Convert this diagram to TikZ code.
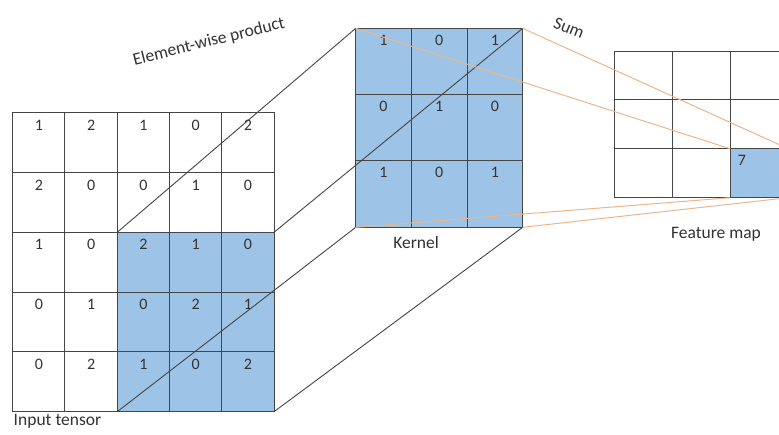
\documentclass[tikz,border=0pt]{standalone}
\usepackage{fontspec}
\setmainfont{Carlito}
\definecolor{cellblue}{HTML}{9DC3E6}
\definecolor{gridgray}{HTML}{454545}
\definecolor{sumorange}{HTML}{EDB68A}
\definecolor{txtgray}{HTML}{333333}
\begin{document}
\begin{tikzpicture}[x=1pt,y=-1pt,
  cell/.style={draw=gridgray, line width=1pt, inner sep=0pt, outer sep=0pt, anchor=north west},
  incell/.style={cell, minimum width=52.26pt, minimum height=59.8pt},
  kcell/.style={cell, fill=cellblue, minimum width=55.67pt, minimum height=66.33pt},
  fcell/.style={cell, minimum width=58.1pt, minimum height=48.9pt},
  digit/.style={text=txtgray, font=\fontsize{16}{18}\selectfont, inner sep=0pt},
  lbl/.style={text=txtgray, font=\fontsize{17.5}{20}\selectfont, inner sep=0pt},
  proj/.style={draw=gridgray, line width=0.9pt},
  sumline/.style={draw=sumorange, line width=1pt}]
\clip (0,0) rectangle (779,434);
\fill[white] (0,0) rectangle (779,434);

% input tensor, 5x5, lower-right 3x3 window shaded
\foreach \row [count=\r from 0] in {{1,2,1,0,2},{2,0,0,1,0},{1,0,2,1,0},{0,1,0,2,1},{0,2,1,0,2}} {
  \foreach \v [count=\c from 0] in \row {
    \def\cf{white}
    \ifnum\r>1 \ifnum\c>1 \def\cf{cellblue}\fi\fi
    \node[incell, fill=\cf] (in-\r-\c) at ({12.7+52.26*\c},{112.7+59.8*\r}) {};
    \node[digit] at ([yshift=-12.5pt]in-\r-\c.north) {\v};
  }
}

% kernel, 3x3
\foreach \row [count=\r from 0] in {{1,0,1},{0,1,0},{1,0,1}} {
  \foreach \v [count=\c from 0] in \row {
    \node[kcell] (k-\r-\c) at ({355.7+55.67*\c},{28.3+66.33*\r}) {};
    \node[digit] at ([yshift=-11.7pt]k-\r-\c.north) {\v};
  }
}

% feature map, 3x3, output cell shaded
\foreach \r in {0,1,2} {
  \foreach \c in {0,1,2} {
    \def\cf{white}
    \ifnum\r=2 \ifnum\c=2 \def\cf{cellblue}\fi\fi
    \node[fcell, fill=\cf] (f-\r-\c) at ({614+58.1*\c},{51+48.9*\r}) {};
  }
}
\node[digit, anchor=center] (fval) at ([xshift=11.7pt,yshift=-12pt]f-2-2.north west) {7};

% projection of the window onto the kernel
\draw[proj] (in-2-2.north west) -- (k-0-0.north west);
\draw[proj] (in-2-4.north east) -- (k-0-2.north east);
\draw[proj] (in-4-2.south west) -- (k-2-0.south west);
\draw[proj] (in-4-4.south east) -- (k-2-2.south east);

% summation onto the output cell
\draw[sumline] (k-0-0.north west) -- (f-2-2.north west);
\draw[sumline] (k-0-2.north east) -- (f-2-2.north east);
\draw[sumline] (k-2-0.south west) -- (f-2-2.south west);
\draw[sumline] (k-2-2.south east) -- (f-2-2.south east);

% labels
\node[lbl] (lin) at (57.5,421.5) {Input tensor};
\node[lbl] (lk) at (416,242.5) {Kernel};
\node[lbl] (lf) at (716,234) {Feature map};
\node[lbl, rotate=14] (le) at (209,42) {Element-wise product};
\node[lbl, rotate=-22] (ls) at (569,28) {Sum};
\end{tikzpicture}
\end{document}
